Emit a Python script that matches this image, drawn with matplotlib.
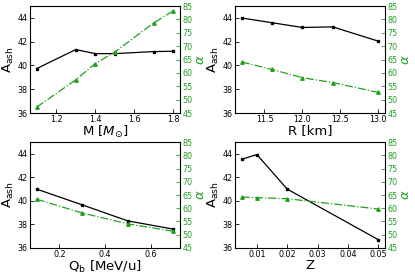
import matplotlib

matplotlib.use("Agg")
import matplotlib.pyplot as plt

# panel data: (x, A_ash, alpha)
m_vals = [1.1, 1.3, 1.4, 1.5, 1.7, 1.8]
m_aash = [39.74, 41.34, 41.0, 41.0, 41.17, 41.2]
m_alpha = [47.2, 57.4, 63.5, 67.8, 78.7, 83.2]

r_vals = [11.2, 11.6, 12.0, 12.4, 13.0]
r_aash = [44.0, 43.6, 43.2, 43.25, 42.05]
r_alpha = [64.1, 61.3, 58.2, 56.4, 52.7]

q_vals = [0.1, 0.3, 0.5, 0.7]
q_aash = [41.0, 39.66, 38.3, 37.6]
q_alpha = [63.4, 58.2, 54.1, 51.3]

z_vals = [0.005, 0.01, 0.02, 0.05]
z_aash = [43.54, 43.94, 41.0, 36.7]
z_alpha = [64.2, 64.0, 63.6, 59.7]

GREEN = "#22a022"

panels = [
    (m_vals, m_aash, m_alpha, r"M $[M_{\odot}]$", [1.2, 1.4, 1.6, 1.8], ["1.2", "1.4", "1.6", "1.8"]),
    (r_vals, r_aash, r_alpha, "R [km]", [11.5, 12.0, 12.5, 13.0], ["11.5", "12.0", "12.5", "13.0"]),
    (q_vals, q_aash, q_alpha, r"Q$_{\rm b}$ [MeV/u]", [0.2, 0.4, 0.6], ["0.2", "0.4", "0.6"]),
    (z_vals, z_aash, z_alpha, "Z", [0.01, 0.02, 0.03, 0.04, 0.05], ["0.01", "0.02", "0.03", "0.04", "0.05"]),
]

positions = [
    [0.072, 0.592, 0.362, 0.386],
    [0.566, 0.592, 0.362, 0.386],
    [0.072, 0.105, 0.362, 0.382],
    [0.566, 0.105, 0.362, 0.382],
]

fig = plt.figure(figsize=(4.15, 2.77), dpi=100)

for (x, aash, alpha, xlabel, xticks, xticklabels), pos in zip(panels, positions):
    ax = fig.add_axes(pos)
    ax.plot(x, aash, color="black", lw=0.9, marker="s", ms=1.8)
    ax.set_ylim(36, 45)
    ax.set_yticks([36, 38, 40, 42, 44])
    ax.set_xticks(xticks)
    ax.set_xticklabels(xticklabels)
    ax.tick_params(direction="in", labelsize=5.8, length=3, width=0.6, pad=1.5)
    ax.set_xlabel(xlabel, fontsize=9.5, labelpad=0)
    ax.set_ylabel(r"A$_{\rm ash}$", fontsize=9.5, labelpad=1)
    for sp in ax.spines.values():
        sp.set_linewidth(0.7)

    ax2 = ax.twinx()
    ax2.plot(x, alpha, color=GREEN, lw=0.9, ls="-.", marker="^", ms=2.5)
    ax2.set_ylim(45, 85)
    ax2.set_yticks(range(45, 90, 5))
    ax2.tick_params(direction="in", labelsize=5.8, length=3, width=0.6, pad=1.5, colors=GREEN)
    ax2.set_ylabel(r"$\alpha$", fontsize=9.5, color=GREEN, labelpad=1)

fig.savefig("out.png", dpi=100)
